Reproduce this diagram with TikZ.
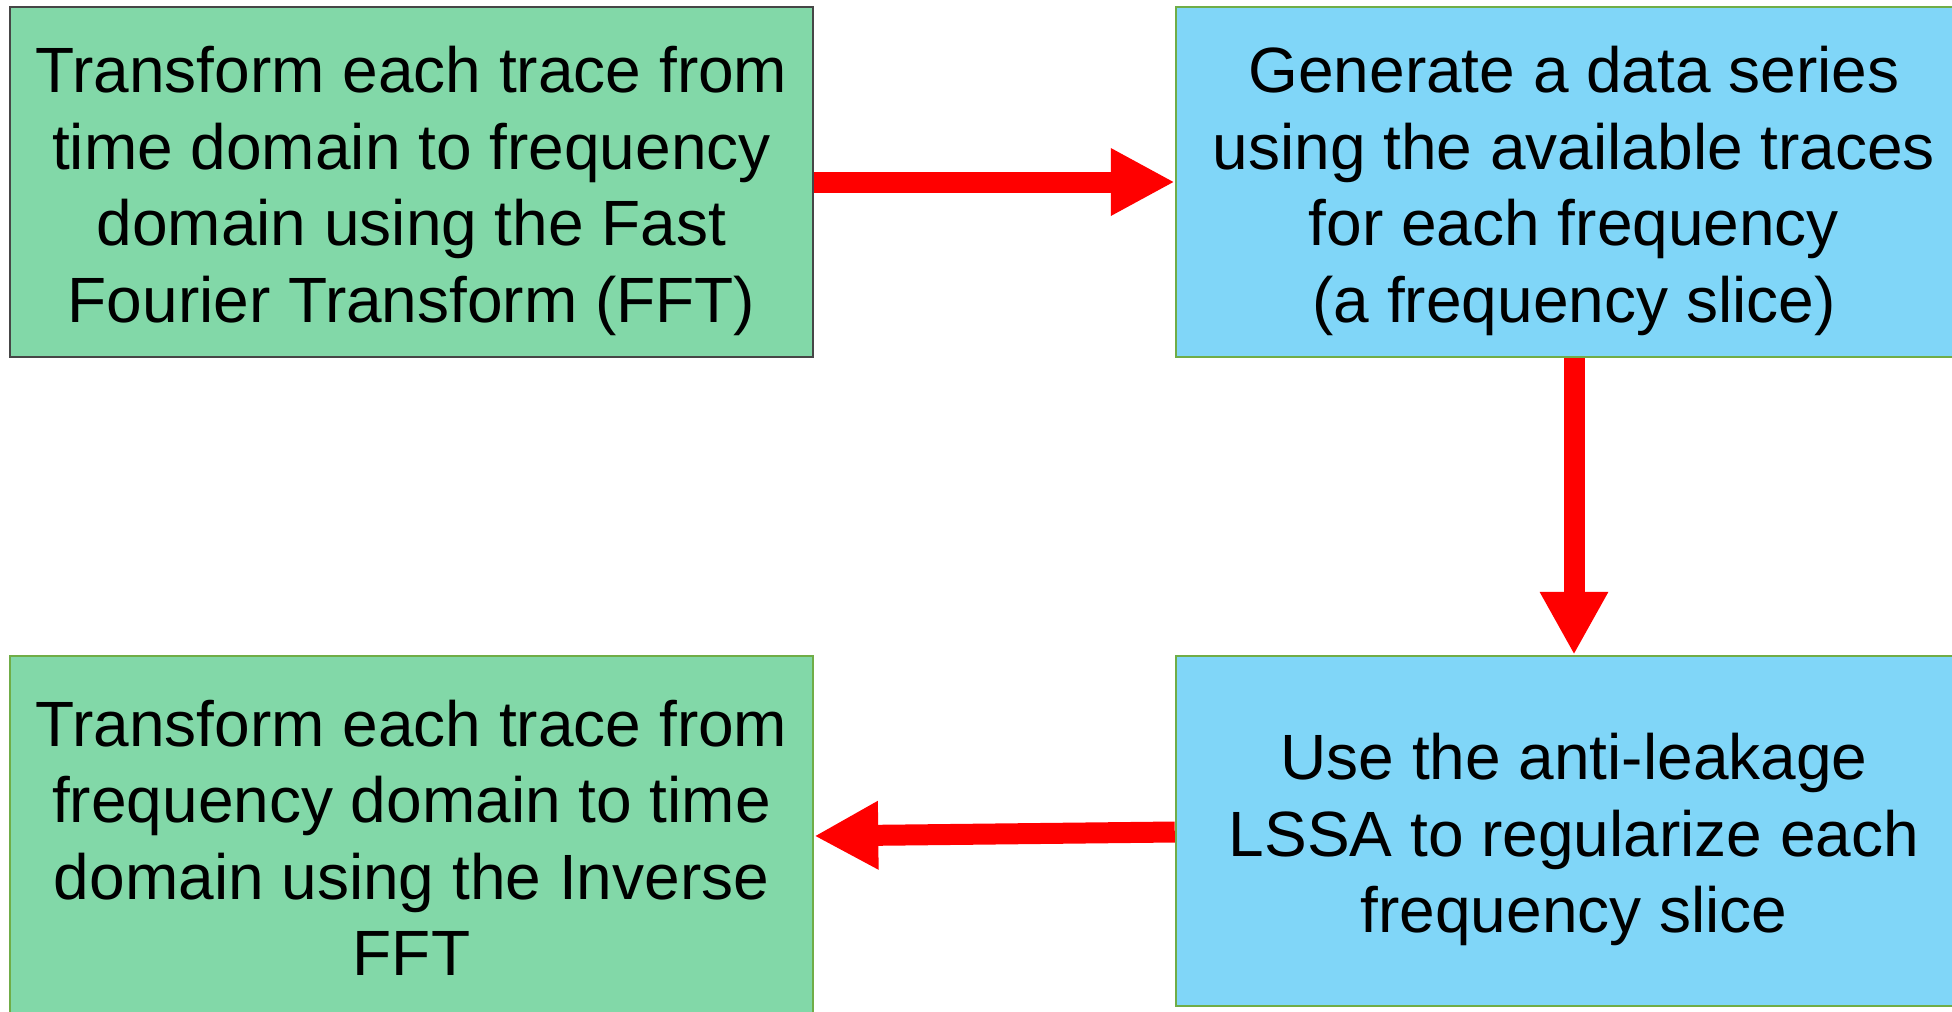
\documentclass[tikz,border=0pt]{standalone}
\usepackage{fontspec}
\setmainfont{Liberation Sans}
\usetikzlibrary{arrows.meta}
\definecolor{boxgreen}{RGB}{130,216,168}
\definecolor{boxblue}{RGB}{128,214,248}
\definecolor{edgegreen}{RGB}{112,173,71}
\definecolor{edgegray}{RGB}{70,70,70}
% extra room above the first line pushes a centred block of text down
\newcommand\firstline{\rule{0pt}{64pt}}
\tikzset{
  stage/.style={rectangle, draw=edgegreen, line width=2.5pt, align=center,
    minimum width=796pt, minimum height=350pt, inner sep=0pt,
    font=\fontsize{64}{76.5}\selectfont},
  greenstage/.style={stage, fill=boxgreen},
  bluestage/.style={stage, fill=boxblue},
  flow/.style={draw=red, line width=21pt},
}
\begin{document}
\begin{tikzpicture}[x=1pt, y=-1pt]
  \useasboundingbox (0,0) rectangle (1952,1012);
  \clip (0,0) rectangle (1952,1012);
  \node[greenstage, draw=edgegray, minimum width=803pt] (fft) at (411.5,182)
    {\firstline Transform each trace from\\time domain to frequency\\domain using the Fast\\Fourier Transform (FFT)};
  \node[bluestage] (slice) at (1574,182)
    {\firstline Generate a data series\\using the available traces\\for each frequency\\(a frequency slice)};
  \node[bluestage] (lssa) at (1574,831)
    {\firstline Use the anti-leakage\\LSSA to regularize each\\frequency slice};
  \node[greenstage, minimum width=803pt, minimum height=364pt] (ifft) at (411.5,838)
    {Transform each trace from\\frequency domain to time\\domain using the Inverse\\FFT};
  \draw[flow, -{Triangle[length=64pt,width=63pt]}] (fft.east) -- (slice.west);
  \draw[flow, -{Triangle[length=63pt,width=64pt]}] (slice.south) -- (lssa.north);
  \draw[flow, -{Triangle[length=64pt,width=64pt]}] (lssa.west |- 0,832) -- (ifft.east |- 0,836);
\end{tikzpicture}
\end{document}
